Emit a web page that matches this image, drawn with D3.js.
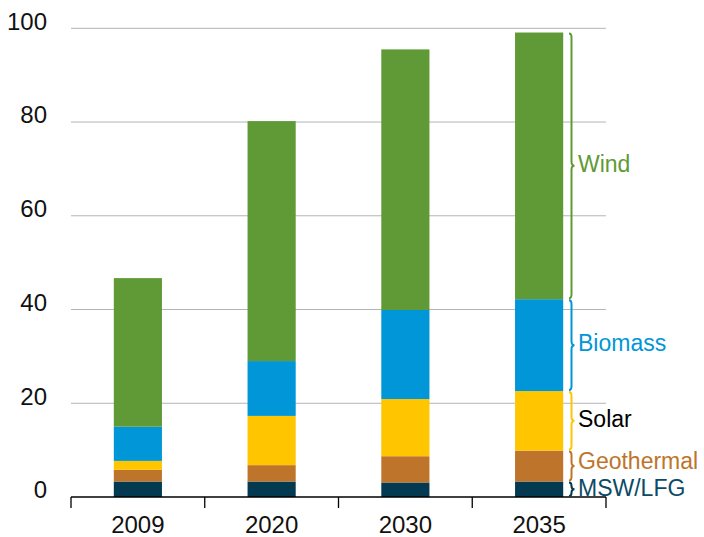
<!DOCTYPE html>
<html><head><meta charset="utf-8">
<script src="https://cdn.jsdelivr.net/npm/d3@7"></script>
<style>html,body{margin:0;padding:0;background:#fff;}svg{display:block;font-family:"Liberation Sans",Arial,sans-serif;}</style>
</head><body><svg id="c" width="704" height="537"></svg>
<script>
const categories = ["2009", "2020", "2030", "2035"];
const seriesNames = ["MSW/LFG", "Geothermal", "Solar", "Biomass", "Wind"];
const msw        = [3.3, 3.3, 3.1, 3.3];
const geothermal = [2.5, 3.5, 5.6, 6.6];
const solar      = [1.9, 10.5, 12.2, 12.7];
const biomass    = [7.3, 11.7, 19.0, 19.6];
const wind       = [31.7, 51.2, 55.6, 56.9];
const yTicks = [0, 20, 40, 60, 80, 100];
const colors = ["#033a52", "#be752b", "#ffc600", "#0096d8", "#5f9a36"];
const labelColors = ["#0d4a66", "#be752b", "#000000", "#0096d8", "#5f9a36"];
const labelShift = [1, -3, 0, 0, 0];

const svg = d3.select("#c");
const x = d3.scaleBand().domain(categories).range([71, 606]).padding(0);
const y = d3.scaleLinear().domain([0, 100]).range([497, 28.3]);
const barW = x.bandwidth() * 0.36;

const rows = categories.map((c, i) => ({cat: c, "MSW/LFG": msw[i], "Geothermal": geothermal[i], "Solar": solar[i], "Biomass": biomass[i], "Wind": wind[i]}));
const stacked = d3.stack().keys(seriesNames)(rows);

// gridlines
svg.append("g").selectAll("line").data(yTicks.filter(t => t > 0)).join("line")
  .attr("x1", 71).attr("x2", 606).attr("y1", d => y(d)).attr("y2", d => y(d))
  .attr("stroke", "#b4b4b4").attr("stroke-width", 1);

// bars
stacked.forEach((s, si) => {
  svg.append("g").attr("fill", colors[si]).selectAll("rect").data(s).join("rect")
    .attr("x", d => x(d.data.cat) + (x.bandwidth() - barW) / 2)
    .attr("width", barW)
    .attr("y", d => y(d[1]))
    .attr("height", d => y(d[0]) - y(d[1]));
});

// y labels
svg.append("g").selectAll("text").data(yTicks).join("text")
  .attr("x", 47).attr("y", d => y(d) - 5)
  .attr("text-anchor", "end").attr("dominant-baseline", "middle")
  .attr("font-size", 24).attr("fill", "#111").text(d => d);

// x axis
const bounds = categories.map(c => x(c)).concat([x.range()[1]]);
svg.append("line").attr("x1", 71).attr("x2", 606).attr("y1", y(0)).attr("y2", y(0)).attr("stroke", "#000").attr("stroke-width", 1.3);
svg.append("g").selectAll("line").data(bounds).join("line")
  .attr("x1", d => d).attr("x2", d => d).attr("y1", y(0)).attr("y2", y(0) + 11)
  .attr("stroke", "#000").attr("stroke-width", 1.3);
svg.append("g").selectAll("text").data(categories).join("text")
  .attr("x", d => x(d) + x.bandwidth() / 2).attr("y", 533)
  .attr("text-anchor", "middle").attr("font-size", 24).attr("fill", "#111").text(d => d);

// braces for last category
const last = stacked.map(s => s[s.length - 1]);
const bx = 571.5, hook = 2.5, tip = 3, r = 4;
function brace(y0, y1) {
  const m = (y0 + y1) / 2;
  const rr = Math.min(r, (y1 - y0) / 4);
  return `M${bx - hook},${y0} Q${bx},${y0} ${bx},${y0 + rr} L${bx},${m - rr} Q${bx},${m} ${bx + tip},${m} Q${bx},${m} ${bx},${m + rr} L${bx},${y1 - rr} Q${bx},${y1} ${bx - hook},${y1}`;
}
svg.append("g").selectAll("path").data(last).join("path")
  .attr("d", d => brace(y(d[1]) + 1, y(d[0]) - 1))
  .attr("fill", "none").attr("stroke", (d, i) => colors[i]).attr("stroke-width", 2);
svg.append("g").selectAll("text").data(last).join("text")
  .attr("x", 578).attr("y", (d, i) => (y(d[0]) + y(d[1])) / 2 + labelShift[i])
  .attr("dominant-baseline", "middle").attr("font-size", 23)
  .attr("fill", (d, i) => labelColors[i]).text((d, i) => seriesNames[i]);
</script></body></html>
